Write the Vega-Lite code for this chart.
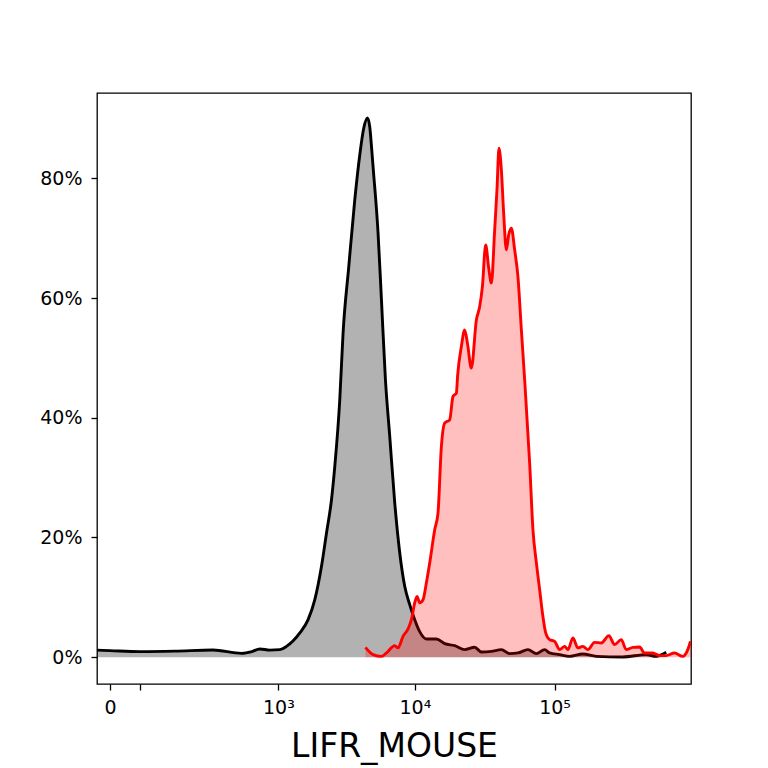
{
  "$schema": "https://vega.github.io/schema/vega-lite/v6.json",
  "autosize": "none",
  "padding": {"left": 97, "top": 93, "right": 77, "bottom": 84},
  "width": 594,
  "height": 591,
  "background": "white",
  "config": {
    "view": {"stroke": "black", "strokeWidth": 1.3},
    "font": "DejaVu Sans",
    "axis": {
      "domain": false,
      "grid": false,
      "tickColor": "black",
      "tickSize": 6,
      "tickWidth": 1.3,
      "labelColor": "black",
      "labelFont": "DejaVu Sans",
      "labelFontSize": 19,
      "titleFont": "DejaVu Sans",
      "titleColor": "black",
      "titleFontWeight": "normal"
    }
  },
  "datasets": {
    "control": [
      {"x": -15.9, "y": 0.0117}, {"x": 0, "y": 0.0109}, {"x": 42.7, "y": 0.0092},
      {"x": 127.9, "y": 0.0100}, {"x": 296.8, "y": 0.0120}, {"x": 515.9, "y": 0.0063},
      {"x": 623.3, "y": 0.0092}, {"x": 720.3, "y": 0.0137}, {"x": 860.9, "y": 0.0117},
      {"x": 1026.5, "y": 0.0125}, {"x": 1153.6, "y": 0.0180}, {"x": 1451.7, "y": 0.0404},
      {"x": 1673.5, "y": 0.0626}, {"x": 1876, "y": 0.0960}, {"x": 2102, "y": 0.1517},
      {"x": 2287.8, "y": 0.2074}, {"x": 2489, "y": 0.2630}, {"x": 2631.8, "y": 0.3187},
      {"x": 2862, "y": 0.4301}, {"x": 3025.7, "y": 0.5420}, {"x": 3329, "y": 0.6527},
      {"x": 3681, "y": 0.7641}, {"x": 4002, "y": 0.8392}, {"x": 4279, "y": 0.8843},
      {"x": 4551, "y": 0.9010}, {"x": 4729, "y": 0.8860}, {"x": 4889, "y": 0.8476},
      {"x": 4996, "y": 0.8197}, {"x": 5429, "y": 0.7090}, {"x": 5745, "y": 0.5971},
      {"x": 6139, "y": 0.4635}, {"x": 6594, "y": 0.3688}, {"x": 7163, "y": 0.2580},
      {"x": 7782, "y": 0.1745}, {"x": 8454, "y": 0.1183}, {"x": 9184, "y": 0.0877},
      {"x": 9975, "y": 0.0626}, {"x": 10834, "y": 0.0426}, {"x": 12102, "y": 0.0304},
      {"x": 14277, "y": 0.0304}, {"x": 16371, "y": 0.0225}, {"x": 19309, "y": 0.0192},
      {"x": 22766, "y": 0.0125}, {"x": 26847, "y": 0.0164}, {"x": 29975, "y": 0.0087},
      {"x": 35343, "y": 0.0097}, {"x": 41668, "y": 0.0125}, {"x": 47764, "y": 0.0058},
      {"x": 54740, "y": 0.0070}, {"x": 64548, "y": 0.0125}, {"x": 74122, "y": 0.0058},
      {"x": 84951, "y": 0.0125}, {"x": 92227, "y": 0.0070}, {"x": 108694, "y": 0.0042},
      {"x": 128077, "y": 0.0013}, {"x": 159353, "y": 0.0053}, {"x": 198588, "y": 0.0013},
      {"x": 307464, "y": 0.0003}, {"x": 451513, "y": 0.0042}, {"x": 532181, "y": 0.0013},
      {"x": 627187, "y": 0.0080}
    ],
    "sample": [
      {"x": 4401, "y": 0.0164}, {"x": 4996, "y": 0.0042}, {"x": 5745, "y": 0.0013},
      {"x": 6241, "y": 0.0070}, {"x": 7163, "y": 0.0192}, {"x": 7566, "y": 0.0154},
      {"x": 8220, "y": 0.0347}, {"x": 8928, "y": 0.0471}, {"x": 9446, "y": 0.0626},
      {"x": 9975, "y": 0.0905}, {"x": 10361, "y": 0.1015}, {"x": 10834, "y": 0.0910},
      {"x": 11443, "y": 0.0960}, {"x": 12102, "y": 0.1244}, {"x": 12780, "y": 0.1573},
      {"x": 13881, "y": 0.2129}, {"x": 14657, "y": 0.2408}, {"x": 15502, "y": 0.3521},
      {"x": 16371, "y": 0.3912}, {"x": 17779, "y": 0.3967}, {"x": 18773, "y": 0.4356},
      {"x": 19852, "y": 0.4413}, {"x": 20287, "y": 0.4718}, {"x": 21561, "y": 0.5191},
      {"x": 22766, "y": 0.5470}, {"x": 23912, "y": 0.5219}, {"x": 25414, "y": 0.4830},
      {"x": 27618, "y": 0.5637}, {"x": 29160, "y": 0.5859}, {"x": 30485, "y": 0.6193},
      {"x": 32187, "y": 0.6889}, {"x": 33815, "y": 0.6505}, {"x": 35343, "y": 0.6250},
      {"x": 37319, "y": 0.7140}, {"x": 38760, "y": 0.7808}, {"x": 40053, "y": 0.8504},
      {"x": 41668, "y": 0.8142}, {"x": 43275, "y": 0.7419}, {"x": 45245, "y": 0.6806},
      {"x": 46994, "y": 0.7056}, {"x": 49124, "y": 0.7168}, {"x": 51866, "y": 0.6806},
      {"x": 54740, "y": 0.6360}, {"x": 57915, "y": 0.5470}, {"x": 61144, "y": 0.4635},
      {"x": 66384, "y": 0.3243}, {"x": 70089, "y": 0.2129}, {"x": 74122, "y": 0.1578},
      {"x": 78256, "y": 0.1127}, {"x": 82216, "y": 0.0710}, {"x": 86363, "y": 0.0409},
      {"x": 92227, "y": 0.0292}, {"x": 100105, "y": 0.0264}, {"x": 108694, "y": 0.0125},
      {"x": 117987, "y": 0.0180}, {"x": 124550, "y": 0.0125}, {"x": 135206, "y": 0.0321},
      {"x": 146797, "y": 0.0154}, {"x": 159353, "y": 0.0180}, {"x": 173000, "y": 0.0125},
      {"x": 193161, "y": 0.0247}, {"x": 215646, "y": 0.0237}, {"x": 244316, "y": 0.0359},
      {"x": 268302, "y": 0.0209}, {"x": 299523, "y": 0.0292}, {"x": 325150, "y": 0.0125},
      {"x": 362390, "y": 0.0164}, {"x": 404546, "y": 0.0170}, {"x": 439118, "y": 0.0070},
      {"x": 503238, "y": 0.0070}, {"x": 561862, "y": 0.0025}, {"x": 627187, "y": 0.0025},
      {"x": 718843, "y": 0.0070}, {"x": 823765, "y": 0.0013}, {"x": 894249, "y": 0.0125},
      {"x": 934851, "y": 0.0264}
    ]
  },
  "encoding": {
    "x": {
      "field": "x",
      "type": "quantitative",
      "scale": {"type": "symlog", "constant": 67, "domain": [-15.95, 942900], "nice": false, "zero": false},
      "axis": {
        "values": [0, 43, 1000, 10000, 100000],
        "labelExpr": "datum.value === 0 ? '0' : datum.value === 1000 ? '10³' : datum.value === 10000 ? '10⁴' : datum.value === 100000 ? '10⁵' : ''",
        "labelOverlap": false,
        "labelFlush": false,
        "labelPadding": 8,
        "title": "LIFR_MOUSE",
        "titleFontSize": 33,
        "titleBaseline": "alphabetic",
        "titleY": 72
      }
    },
    "y": {
      "field": "y",
      "type": "quantitative",
      "scale": {"domain": [-0.0449, 0.9428], "nice": false, "zero": false},
      "axis": {
        "values": [0, 0.2, 0.4, 0.6, 0.8],
        "format": ".0%",
        "labelPadding": 9,
        "title": null
      }
    }
  },
  "layer": [
    {
      "data": {"name": "control"},
      "mark": {"type": "area", "interpolate": "monotone", "color": "black", "opacity": 0.3, "clip": true}
    },
    {
      "data": {"name": "control"},
      "mark": {"type": "line", "interpolate": "monotone", "color": "black", "strokeWidth": 2.9, "clip": true}
    },
    {
      "data": {"name": "sample"},
      "mark": {"type": "area", "interpolate": "monotone", "color": "red", "opacity": 0.25, "clip": true}
    },
    {
      "data": {"name": "sample"},
      "mark": {"type": "line", "interpolate": "monotone", "color": "red", "strokeWidth": 2.9, "clip": true}
    }
  ]
}
